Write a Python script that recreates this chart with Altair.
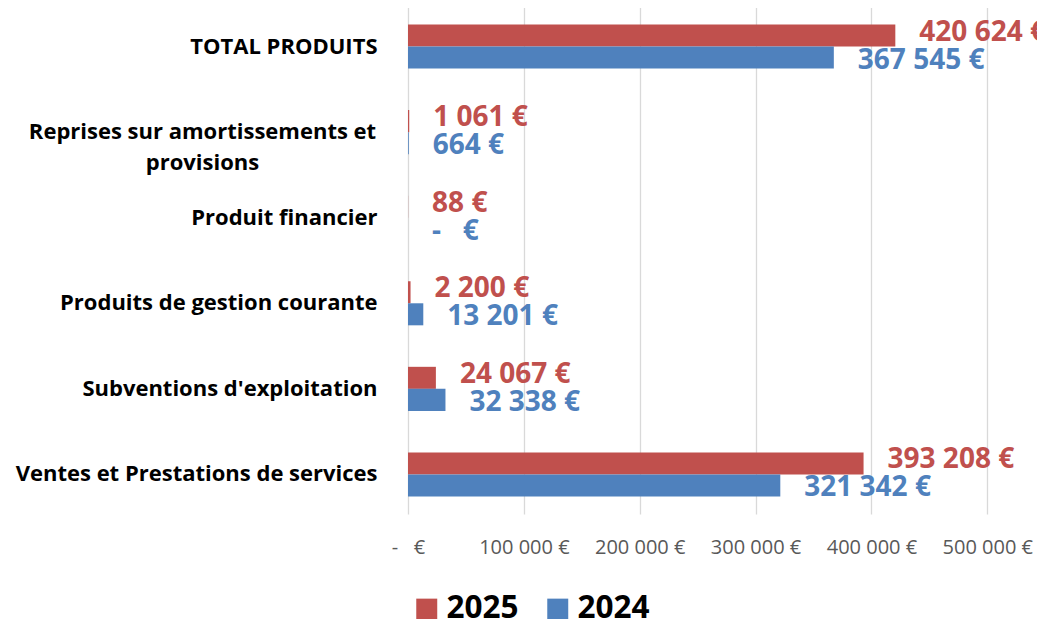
import altair as alt
import pandas as pd

categories = [
    "TOTAL PRODUITS",
    "Reprises sur amortissements et provisions",
    "Produit financier",
    "Produits de gestion courante",
    "Subventions d'exploitation",
    "Ventes et Prestations de services",
]
values_2025 = [420624, 1061, 88, 2200, 24067, 393208]
values_2024 = [367545, 664, 0, 13201, 32338, 321342]
years = ["2025", "2024"]
colors = ["#C0504D", "#4F81BD"]
x_ticks = [0, 100000, 200000, 300000, 400000, 500000]

NB = "\u00a0"
WRAPPED = "Reprises sur amortissements et provisions"


def fmt(v):
    if v == 0:
        return "-" + NB * 3 + "€"
    return f"{v:,}".replace(",", NB) + NB + "€"


rows = []
for c, a, b in zip(categories, values_2025, values_2024):
    rows.append(dict(cat=c, year="2025", value=a, label=fmt(a)))
    rows.append(dict(cat=c, year="2024", value=b, label=fmt(b)))
df = pd.DataFrame(rows)

FONT = "Open Sans"
is_wrapped = f"datum.label == '{WRAPPED}'"

x = alt.X(
    "value:Q",
    scale=alt.Scale(domain=[0, 536000], nice=False),
    axis=alt.Axis(
        title=None,
        values=x_ticks,
        labelExpr=f"datum.value == 0 ? '-{NB*3}€' : format(datum.value / 1000, 'd') + '{NB}000{NB}€'",
        labelFont=FONT,
        labelFontSize=20,
        labelColor="#595959",
        labelPadding=23,
        ticks=False,
        domain=False,
        grid=True,
        gridColor="#D9D9D9",
        gridWidth=1.3,
        labelFlush=False,
    ),
)
y = alt.Y(
    "cat:N",
    sort=categories,
    scale=alt.Scale(domain=categories, paddingInner=0.485, paddingOuter=0.205),
    axis=alt.Axis(
        title=None,
        labelFont=FONT,
        labelFontSize=22,
        labelFontWeight="bold",
        labelColor="black",
        labelAlign={"condition": {"test": is_wrapped, "value": "center"}, "value": "right"},
        labelPadding={"condition": {"test": is_wrapped, "value": 206}, "value": 31},
        labelLimit=400,
        labelLineHeight=31,
        ticks=False,
        domain=False,
        grid=False,
        labelExpr=(
            f"{is_wrapped} ? ['Reprises sur amortissements et', 'provisions'] : datum.label"
        ),
    ),
)
yoff = alt.YOffset("year:N", scale=alt.Scale(domain=years, paddingInner=0, paddingOuter=0))

bars = alt.Chart(df).mark_bar(cornerRadius=0).encode(
    x=x,
    y=y,
    yOffset=yoff,
    color=alt.Color(
        "year:N",
        scale=alt.Scale(domain=years, range=colors),
        legend=alt.Legend(
            title=None,
            orient="none",
            legendX=3,
            legendY=586,
            direction="horizontal",
            symbolType="square",
            symbolSize=440,
            symbolStrokeWidth=0,
            labelFont=FONT,
            labelFontSize=31.5,
            labelFontWeight="bold",
            labelColor="black",
            labelOffset=4,
            columnPadding=23,
        ),
    ),
)


def text_layer(year, dy):
    return alt.Chart(df).transform_filter(alt.datum.year == year).mark_text(
        align="left", baseline="middle", dx=24, dy=dy, font=FONT, fontSize=28, fontWeight="bold"
    ).encode(
        x=alt.X("value:Q"),
        y=alt.Y("cat:N", sort=categories),
        yOffset=alt.YOffset("year:N", scale=alt.Scale(domain=years)),
        text="label:N",
        color=alt.Color("year:N", scale=alt.Scale(domain=years, range=colors), legend=None),
    )


chart = (
    alt.layer(bars, text_layer("2025", -3), text_layer("2024", 3))
    .properties(
        width=621,
        height=507,
        background="white",
        padding={"left": 400, "top": -1, "right": 8, "bottom": 105},
        autosize=alt.AutoSizeParams(type="none"),
    )
    .configure_view(strokeWidth=0, stroke=None)
)

chart.save("out.html", embed_options={"renderer": "svg", "actions": False})
